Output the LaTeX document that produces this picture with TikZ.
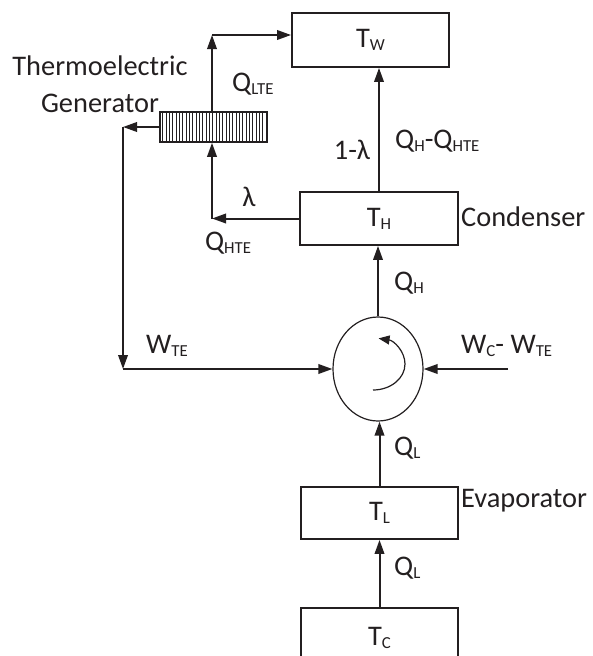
\documentclass[tikz,border=0pt]{standalone}
\usepackage{fontspec}
\setmainfont{Carlito}
\usetikzlibrary{arrows.meta,shapes.geometric,calc}
\definecolor{ink}{RGB}{35,31,32}
\newcommand{\lo}[1]{\raisebox{-0.1em}{\fontsize{16.8}{16.8}\selectfont #1}}
\begin{document}
\begin{tikzpicture}[x=1pt,y=-1pt,
  every node/.style={text=ink},
  lbl/.style={inner sep=0pt,font=\fontsize{28.4}{30}\selectfont},
  box/.style={draw=ink,line width=1.8pt,rectangle,inner sep=0pt,font=\fontsize{28.4}{30}\selectfont},
  flow/.style={draw=ink,line width=2pt,-{Triangle[length=14pt,width=9.5pt]}},
  plain/.style={draw=ink,line width=2pt}]
\useasboundingbox (0,0) rectangle (592,656);
% boxes
\node[box,minimum width=157pt,minimum height=54pt] (TW) at (370.5,40) {T\lo{W}};
\node[box,minimum width=158pt,minimum height=53pt] (TH) at (379,218.5) {T\lo{H}};
\node[box,minimum width=157pt,minimum height=52pt] (TL) at (379.5,513) {T\lo{L}};
\node[box,minimum width=157pt,minimum height=60pt] (TC) at (379.5,638) {T\lo{C}};
\node[draw=ink,line width=1.2pt,ellipse,minimum width=90pt,minimum height=104pt,inner sep=0pt] (comp) at (378,369) {};
\node[draw=ink,line width=1.6pt,rectangle,minimum width=107pt,minimum height=30pt,inner sep=0pt] (TEG) at (213.5,127) {};
\foreach \i in {1,...,31} \draw[ink,line width=0.7pt] ($(TEG.north west)+(\i*3.34,0)$) -- ($(TEG.south west)+(\i*3.34,0)$);
% inner cycle arrow
\draw[ink,line width=1.2pt,-{Triangle[length=11pt,width=9pt]}] (373,390) arc[start angle=-90,end angle=80,x radius=32pt,y radius=26pt];
% coordinates
\coordinate (c1) at (123,127);
\coordinate (c2) at (123,369);
\coordinate (c3) at (212,35);
\coordinate (c4) at (212,218.5);
\coordinate (win) at (508,369);
% connectors
\draw[flow] (TH.north) -- (TH.north |- TW.south);
\draw[flow] (comp.north) -- (comp.north |- TH.south);
\draw[flow] (TL.north) -- (TL.north |- comp.south);
\draw[flow] (TC.north) -- (TL.south);
\draw[flow] (win) -- (comp.east);
\draw[flow] (c2) -- (comp.west);
\draw[flow] (TEG.west) -- (c1);
\draw[flow] (c1) -- (c2);
\draw[flow] (c3 |- TEG.north) -- (c3);
\draw[flow] (c3) -- (c3 -| TW.west);
\draw[flow] (TH.west) -- (c4);
\draw[flow] (c4) -- (c4 |- TEG.south);
% labels
\node[lbl] (l1) at (352,150) {1-λ};
\node[lbl,anchor=west] (l2) at (395,141) {Q\lo{H}-Q\lo{HTE}};
\node[lbl,anchor=west] (l3) at (461,217) {Condenser};
\node[lbl,anchor=west] (l4) at (232,84) {Q\lo{LTE}};
\node[lbl] (l5) at (249,197) {λ};
\node[lbl] (l6) at (228,243) {Q\lo{HTE}};
\node[lbl,align=center,font=\fontsize{28.4}{37}\selectfont] (l7) at (100,84) {Thermoelectric\\Generator};
\node[lbl,anchor=west] (l8) at (394,283) {Q\lo{H}};
\node[lbl,anchor=west] (l9) at (461,346) {W\lo{C}- W\lo{TE}};
\node[lbl,anchor=west] (l10) at (146,346) {W\lo{TE}};
\node[lbl,anchor=west] (l11) at (394,448) {Q\lo{L}};
\node[lbl,anchor=west] (l12) at (461,501) {Evaporator};
\node[lbl,anchor=west] (l13) at (394,568) {Q\lo{L}};
\end{tikzpicture}
\end{document}
